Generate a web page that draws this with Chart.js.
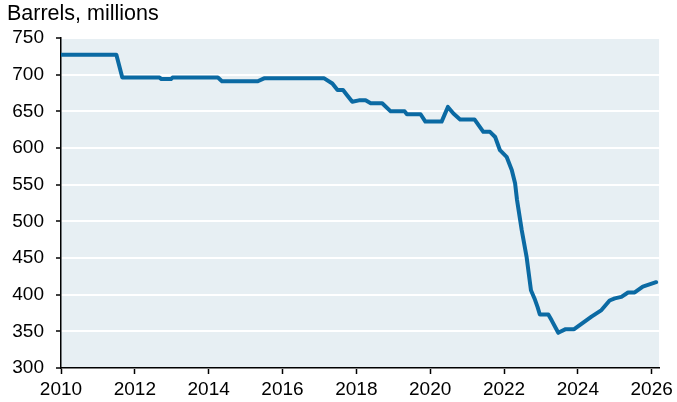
<!DOCTYPE html>
<html>
<head>
<meta charset="utf-8">
<script src="https://cdn.jsdelivr.net/npm/chart.js@4/dist/chart.umd.min.js"></script>
<style>
body{margin:0;background:#fff;}
#wrap{position:relative;width:677px;height:402px;}
#unit{position:absolute;left:7px;top:3px;font-family:"Liberation Sans",Arial,sans-serif;font-size:21.5px;line-height:1;color:#000;}
</style>
</head>
<body>
<div id="wrap">
<div id="unit">Barrels, millions</div>
<canvas id="c" width="677" height="402"></canvas>
</div>
<script>

// decimal year and stock level
let years=[2010.0,2011.5,2011.66,2012.67,2012.72,2012.98,2013.02,2014.25,2014.36,2015.33,2015.5,2017.13,2017.35,2017.49,2017.64,2017.75,2017.89,2018.07,2018.25,2018.39,2018.70,2018.93,2019.31,2019.37,2019.74,2019.87,2020.31,2020.48,2020.63,2020.81,2021.2,2021.44,2021.62,2021.76,2021.89,2022.07,2022.21,2022.30,2022.35,2022.48,2022.61,2022.73,2022.84,2022.91,2022.97,2023.2,2023.29,2023.47,2023.51,2023.67,2023.9,2024.37,2024.64,2024.86,2025.0,2025.18,2025.36,2025.54,2025.76,2025.94,2026.12];
let stocks=[727,727,696,696,694,694,696,696,691,691,695,695,688,679,679,672,663,665,665,661,661,650,650,646,646,636,636,656,647,639,639,622,622,615,597,588,570,552,530,488,452,406,393,383,373,373,365,348,349,353,353,370,379,392,395,397,403,403,411,414,417];

let yTicks=[300,350,400,450,500,550,600,650,700,750];
let xTicks=[2010,2012,2014,2016,2018,2020,2022,2024,2026];

let points=years.map((x,i)=>({x:x,y:stocks[i]}));

let plotBg={
id:"plotBg",
beforeDraw(chart){
let a=chart.chartArea;
let ctx=chart.ctx;
ctx.save();
ctx.fillStyle="#e7eff3";
ctx.fillRect(a.left,a.top,a.right-a.left,a.bottom-a.top);
ctx.restore();
}
};

let font={family:"'Liberation Sans', Arial, sans-serif",size:19};

new Chart(document.getElementById("c"),{
type:"line",
data:{
datasets:[{
data:points,
borderColor:"#0b6aa3",
borderWidth:4,
pointRadius:0,
tension:0,
borderJoinStyle:"round",
borderCapStyle:"round"
}]
},
options:{
responsive:false,
animation:false,
layout:{padding:{top:38,right:15,left:0,bottom:0}},
plugins:{legend:{display:false},tooltip:{enabled:false}},
scales:{
x:{
type:"linear",
min:xTicks[0],
max:2026.2,
afterBuildTicks(s){s.ticks=xTicks.map(v=>({value:v}));},
afterFit(s){s.height=34;},
ticks:{font:font,color:"#000",padding:4,maxRotation:0,callback:v=>String(v)},
grid:{drawOnChartArea:false,drawTicks:true,tickLength:6,tickColor:"#000",tickWidth:1.5},
border:{display:true,color:"#000",width:1.5}
},
y:{
min:yTicks[0],
max:yTicks[yTicks.length-1],
afterBuildTicks(s){s.ticks=yTicks.map(v=>({value:v}));},
afterFit(s){s.width=61;},
ticks:{font:font,color:"#000",padding:12},
grid:{color:"#ffffff",lineWidth:2,tickColor:"#000",tickLength:5,tickWidth:1.5},
border:{display:true,color:"#000",width:1.5}
}
}
},
plugins:[plotBg]
});

</script>
</body>
</html>
